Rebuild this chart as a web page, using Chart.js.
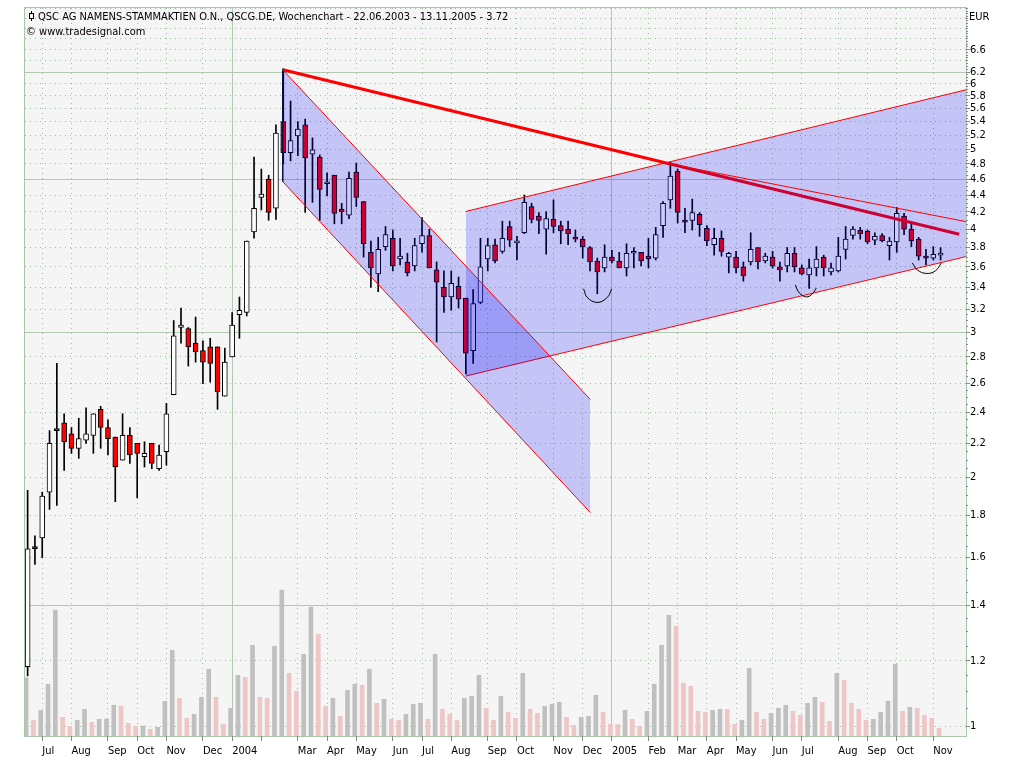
<!DOCTYPE html>
<html>
<head>
<meta charset="utf-8">
<title>QSC AG Wochenchart</title>
<script src="https://cdn.jsdelivr.net/npm/chart.js@4.4.1/dist/chart.umd.min.js"></script>
<style>
  body { margin: 0; background: #fff; }
  #wrap { position: relative; width: 1024px; height: 768px; }
  .lbl { position: absolute; font: 11px "DejaVu Sans Condensed", "DejaVu Sans", sans-serif; color: #000; white-space: nowrap; line-height: 13px; }
  .icon { position: absolute; left: 29px; top: 13px; width: 3px; height: 4px; border: 1px solid #000; }
  .icon:before, .icon:after { content: ""; position: absolute; left: 1px; width: 1px; height: 2px; background: #000; }
  .icon:before { top: -3px; }
  .icon:after { top: 5px; }
</style>
</head>
<body>
<div id="wrap">
  <canvas id="myChart" width="1024" height="768"></canvas>
  <span class="icon"></span>
  <div class="lbl" style="left:38px; top:10px;">QSC AG NAMENS-STAMMAKTIEN O.N., QSCG.DE, Wochenchart - 22.06.2003 - 13.11.2005 - 3.72</div>
  <div class="lbl" style="left:26px; top:25px;">© www.tradesignal.com</div>
  <div class="lbl" style="left:969px; top:10px;">EUR</div>
</div>
<script>
'use strict'

// weekly candles, week 0 = 22.06.2003
let opens = [1.18,1.65,1.69,1.92,2.29,2.33,2.26,2.17,2.22,2.25,2.42,2.30,2.24,2.10,2.25,2.20,2.12,2.20,2.05,2.15,
  2.52,3.04,3.03,2.91,2.85,2.88,2.88,2.51,2.80,3.15,3.17,3.97,4.37,4.60,4.24,5.40,4.95,5.19,5.35,4.93,
  4.89,4.54,4.65,4.23,4.16,4.69,4.32,3.75,3.53,3.81,3.90,3.68,3.65,3.61,3.84,3.93,3.57,3.40,3.31,3.41,
  3.30,2.85,3.26,3.68,3.83,3.76,4.03,3.85,3.96,4.26,4.15,4.00,4.11,4.04,4.00,3.90,3.89,3.80,3.66,3.59,
  3.70,3.66,3.59,3.74,3.75,3.71,3.69,4.04,4.34,4.70,4.10,4.10,4.17,4.01,3.83,3.90,3.70,3.70,3.60,3.65,
  3.80,3.66,3.70,3.60,3.61,3.74,3.59,3.52,3.59,3.70,3.55,3.56,3.78,3.93,3.99,3.98,3.88,3.93,3.82,3.86,
  4.15,4.00,3.89,3.70,3.69,3.72];
let highs = [1.93,1.70,1.92,2.28,2.75,2.39,2.30,2.36,2.43,2.39,2.44,2.35,2.24,2.39,2.30,2.20,2.21,2.20,2.19,2.46,
  3.10,3.21,3.04,3.13,2.93,2.95,2.88,2.87,3.17,3.31,3.87,4.89,4.73,4.65,5.35,6.26,5.72,5.40,5.44,5.16,
  4.92,4.68,4.65,4.30,4.69,4.81,4.32,3.87,3.91,4.03,3.99,3.90,3.74,3.90,4.13,4.00,3.65,3.56,3.56,3.50,
  3.30,3.38,3.90,3.90,3.89,4.09,4.09,3.92,4.40,4.30,4.19,4.20,4.34,4.09,4.09,3.99,3.92,3.81,3.69,3.83,
  3.77,3.75,3.84,3.80,3.75,3.90,4.02,4.32,4.82,4.73,4.24,4.35,4.19,4.04,4.01,3.98,3.75,3.76,3.65,3.96,
  3.80,3.74,3.76,3.65,3.80,3.80,3.62,3.68,3.81,3.72,3.64,3.91,4.03,4.03,4.02,3.99,3.96,3.95,3.91,4.25,
  4.18,4.07,3.91,3.78,3.81,3.80];
let lows = [1.15,1.57,1.60,1.83,1.85,2.04,2.14,2.11,2.20,2.14,2.17,2.13,1.87,2.10,2.08,1.89,2.06,2.05,2.04,2.07,
  2.52,2.91,2.73,2.76,2.60,2.61,2.42,2.51,2.80,2.95,3.14,3.90,4.22,4.10,4.11,4.80,4.84,4.91,4.19,4.31,
  4.10,4.39,4.06,4.06,4.12,4.26,3.70,3.40,3.36,3.77,3.56,3.62,3.51,3.56,3.75,3.59,2.92,3.17,3.19,3.21,
  2.67,2.75,3.25,3.56,3.64,3.74,3.81,3.67,3.95,4.07,3.95,3.73,3.96,3.84,3.83,3.86,3.69,3.56,3.34,3.55,
  3.64,3.59,3.51,3.59,3.61,3.59,3.67,3.91,4.24,4.07,3.96,3.99,3.92,3.82,3.72,3.71,3.54,3.54,3.46,3.62,
  3.58,3.64,3.59,3.46,3.55,3.55,3.52,3.39,3.51,3.51,3.52,3.55,3.68,3.89,3.89,3.84,3.83,3.86,3.67,3.75,
  3.94,3.81,3.67,3.62,3.67,3.67];
let closes = [1.64,1.64,1.90,2.20,2.28,2.21,2.17,2.23,2.26,2.39,2.30,2.23,2.06,2.25,2.13,2.14,2.14,2.08,2.13,2.39,
  2.97,3.06,2.88,2.84,2.76,2.75,2.54,2.76,3.06,3.19,3.87,4.24,4.41,4.19,5.23,4.95,5.12,5.29,4.88,4.99,
  4.47,4.56,4.18,4.20,4.61,4.37,3.84,3.59,3.78,3.94,3.61,3.71,3.54,3.82,3.93,3.59,3.45,3.31,3.44,3.29,
  2.83,3.25,3.60,3.82,3.66,3.90,3.88,3.87,4.31,4.11,4.10,4.12,4.03,3.98,3.95,3.89,3.81,3.65,3.55,3.70,
  3.66,3.59,3.74,3.75,3.66,3.68,3.94,4.30,4.64,4.19,4.08,4.19,4.05,3.87,3.90,3.76,3.74,3.59,3.51,3.78,
  3.65,3.71,3.61,3.57,3.74,3.60,3.53,3.59,3.68,3.59,3.59,3.71,3.89,4.00,3.95,3.86,3.92,3.87,3.87,4.18,
  4.00,3.87,3.71,3.69,3.73,3.72];
// volume, relative units (no scale in the chart)
let volume = [580,157,257,517,1257,187,97,157,267,137,167,170,307,297,127,97,100,67,87,347,
  857,377,177,217,387,667,387,117,277,607,587,907,387,377,897,1457,627,447,817,1287,
  1017,297,377,197,457,517,507,667,327,367,167,157,217,317,327,167,817,267,217,157,
  377,397,607,277,157,397,237,177,627,267,227,297,317,337,187,107,187,197,407,237,
  117,115,257,167,97,247,517,907,1207,1097,527,497,247,237,257,267,265,117,157,677,
  237,167,227,277,307,247,207,327,387,337,147,627,557,327,267,157,167,237,347,717,
  247,287,277,207,177,77];

let monthTickWeeks = [2,6,11,15,19,24,28,32,37,41,45,50,54,58,63,67,72,76,80,85,89,93,97,102,106,111,115,119,124];
let monthTickLabels = ['Jul','Aug','Sep','Oct','Nov','Dec','2004','','Mar','Apr','May','Jun','Jul','Aug','Sep','Oct','Nov','Dec',
  '2005','Feb','Mar','Apr','May','Jun','Jul','Aug','Sep','Oct','Nov'];
let priceTickLabels = [1,1.2,1.4,1.6,1.8,2,2.2,2.4,2.6,2.8,3,3.2,3.4,3.6,3.8,4,4.2,4.4,4.6,4.8,5,5.2,5.4,5.6,5.8,6,6.2,6.6];
let priceSolidLines = [1.4,3,4.6,6.2];

// drawn trend lines and channels, [week, price]
let trendThick = [[34.93,6.24],[127.56,3.944]];
let trendThin = [[87.35,4.81],[128.48,4.085]];
let chan1Upper = [[34.93,6.24],[77.04,2.487]];
let chan1Lower = [[34.93,4.568],[77.04,1.814]];
let chan1Left = [[34.93,6.24],[34.93,4.568]];
let chan2Upper = [[60,4.203],[128.48,5.901]];
let chan2Lower = [[60,2.655],[128.48,3.705]];
let arc1 = [[76.12,3.386],[76.63,3.306],[77.99,3.26],[79.36,3.306],[79.96,3.386]];
let arc2 = [[105.11,3.424],[105.66,3.348],[106.62,3.311],[107.44,3.339],[107.99,3.395]];
let arc3 = [[121.13,3.64],[121.81,3.57],[123.05,3.535],[124.28,3.56],[125.1,3.64]];

let gridDot = '#9cbf9c';
let gridSolid = '#b2cab2';
let tickFont = { family: 'DejaVu Sans Condensed', size: 11 };

function toPoints(arr){
  return arr.map(p => ({ x: p[0], y: p[1] }));
}

function lineSet(arr, color, width, order){
  return { type: 'line', data: toPoints(arr), borderColor: color, borderWidth: width,
    pointRadius: 0, fill: false, order: order };
}

function priceKey(v){
  return Math.round(v * 20) / 20;
}

let weeks = opens.map((v, i) => i);
let wickData = weeks.map(i => ({ x: i, y: [lows[i], highs[i]] }));
let bodyData = weeks.map(i => ({ x: i, y: [opens[i], closes[i]] }));
let volData = weeks.map(i => ({ x: i, y: volume[i] }));

let channelFill = 'rgba(0,0,250,0.2)';

let chan1LowerSet = lineSet(chan1Lower, '#ff0000', 1, 2);
chan1LowerSet.fill = '-1';
chan1LowerSet.backgroundColor = channelFill;
let chan2LowerSet = lineSet(chan2Lower, '#ff0000', 1, 2);
chan2LowerSet.fill = '-1';
chan2LowerSet.backgroundColor = channelFill;

let arcSets = [arc1, arc2, arc3].map(a => {
  let s = lineSet(a, '#000000', 1, 1);
  s.tension = 0.4;
  return s;
});

let plotFrame = {
  id: 'plotFrame',
  beforeDraw(chart){
    let a = chart.chartArea;
    let c = chart.ctx;
    c.save();
    c.fillStyle = '#ffffff';
    c.fillRect(0, 0, chart.width, chart.height);
    c.fillStyle = '#f5f5f5';
    c.fillRect(a.left, a.top, a.right - a.left, a.bottom - a.top);
    c.strokeStyle = '#a9c6a9';
    c.lineWidth = 1;
    c.strokeRect(a.left - 0.5, a.top - 0.5, a.right - a.left + 1, a.bottom - a.top + 1);
    c.restore();
  }
};

const data = {
  datasets: [
    ...arcSets,
    lineSet(trendThin, '#ff0000', 1, 1),
    lineSet(chan1Upper, '#ff0000', 1, 2),
    chan1LowerSet,
    lineSet(chan1Left, '#10104a', 1, 2),
    lineSet(chan2Upper, '#ff0000', 1, 2),
    chan2LowerSet,
    lineSet(trendThick, '#ff0000', 3, 3),
    {
      type: 'bar', data: bodyData, grouped: false, barThickness: 5, minBarLength: 2,
      backgroundColor: ctx => closes[ctx.dataIndex] >= opens[ctx.dataIndex] ? '#ffffff' : '#ff0000',
      borderColor: '#000000', borderWidth: 1, borderSkipped: false, order: 4
    },
    {
      type: 'bar', data: wickData, grouped: false, barThickness: 1,
      backgroundColor: '#000000', borderWidth: 0, order: 5
    },
    {
      type: 'bar', data: volData, xAxisID: 'xVol', yAxisID: 'yVol', grouped: false, barThickness: 4,
      backgroundColor: ctx => (ctx.dataIndex > 0 && volume[ctx.dataIndex] < volume[ctx.dataIndex - 1]) ? '#eec6c6' : '#c0c0c0',
      borderWidth: 0, order: 6
    }
  ]
};

const config = {
  type: 'bar',
  data: data,
  options: {
    responsive: false,
    animation: false,
    devicePixelRatio: 1,
    events: [],
    layout: { padding: { left: 25, top: 8, right: 0, bottom: 0 } },
    plugins: { legend: { display: false }, tooltip: { enabled: false } },
    scales: {
      x: {
        type: 'linear', position: 'bottom', min: -0.36, max: 128.48, offset: false,
        afterBuildTicks: s => { s.ticks = monthTickWeeks.map(w => ({ value: w })); },
        afterFit: s => { s.height = 32; },
        grid: {
          offset: false, lineWidth: 1, tickLength: 5, tickColor: '#8a8a8a',
          color: ctx => {
            let l = monthTickLabels[ctx.index];
            if (l === '') return 'rgba(0,0,0,0)';
            return l.startsWith('20') ? gridSolid : gridDot;
          }
        },
        border: {
          display: false,
          dash: ctx => (ctx.index !== undefined && monthTickLabels[ctx.index] && monthTickLabels[ctx.index].startsWith('20')) ? [] : [1, 4]
        },
        ticks: {
          autoSkip: false, maxRotation: 0, align: 'start', padding: 4, color: '#000', font: tickFont,
          callback: (v, i) => monthTickLabels[i]
        }
      },
      y: {
        type: 'logarithmic', position: 'right', min: 0.9725, max: 7.414,
        afterBuildTicks: s => {
          let t = [];
          for (let k = 20; k <= 148; k++) t.push({ value: k / 20 });
          s.ticks = t;
        },
        afterFit: s => { s.width = 58; },
        grid: {
          lineWidth: 1, tickLength: 4, tickColor: '#8a8a8a',
          tickBorderDash: ctx => priceTickLabels.includes(priceKey(ctx.tick.value)) ? [] : [2, 10],
          color: ctx => {
            let k = Math.round(ctx.tick.value * 20);
            if (priceSolidLines.includes(k / 20)) return gridSolid;
            return k % 4 === 0 ? gridDot : 'rgba(0,0,0,0)';
          }
        },
        border: {
          display: false,
          dash: ctx => (ctx.tick && priceSolidLines.includes(priceKey(ctx.tick.value))) ? [] : [1, 4]
        },
        ticks: {
          autoSkip: false, padding: 0, color: '#000', font: tickFont,
          callback: v => priceTickLabels.includes(priceKey(v)) ? String(priceKey(v)) : ''
        }
      },
      xVol: { type: 'linear', display: false, min: -0.155, max: 128.685, offset: false, grid: { offset: false } },
      yVol: { type: 'linear', display: false, min: 0, max: 7274 }
    }
  },
  plugins: [plotFrame]
};

var myChart = new Chart(document.getElementById('myChart'), config);
</script>
</body>
</html>
